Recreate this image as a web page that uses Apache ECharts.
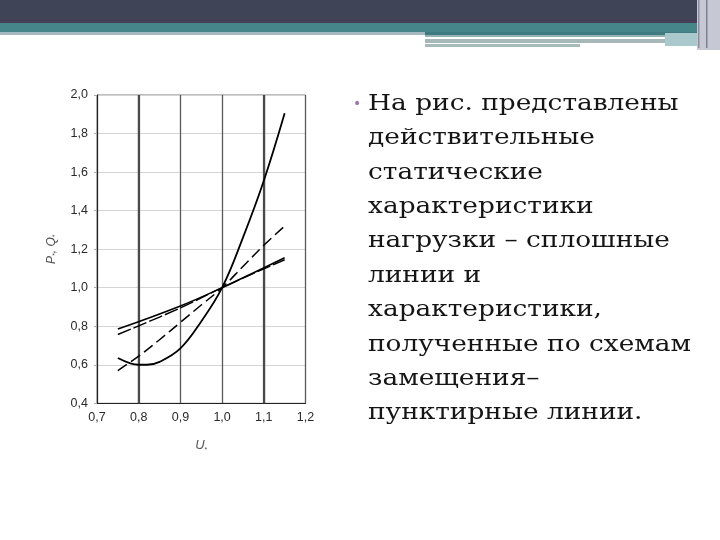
<!DOCTYPE html>
<html><head><meta charset="utf-8">
<script src="https://cdn.jsdelivr.net/npm/echarts@6/dist/echarts.min.js"></script>
<style>html,body{margin:0;padding:0;background:#fff}#c{width:720px;height:540px}</style>
</head><body><div id="c"></div>
<script>
// ---- data ----
const xTicks = [0.7, 0.8, 0.9, 1.0, 1.1, 1.2];
const yTicks = [0.4, 0.6, 0.8, 1.0, 1.2, 1.4, 1.6, 1.8, 2.0];
const pActualU = [0.75, 0.78, 0.80, 0.82, 0.85, 0.90, 0.95, 1.00, 1.05, 1.10, 1.15];
const pActual  = [0.635, 0.607, 0.600, 0.600, 0.615, 0.685, 0.825, 1.000, 1.26, 1.555, 1.905];
const pModelU  = [0.75, 0.80, 0.85, 0.90, 0.95, 1.00, 1.05, 1.10, 1.15];
const pModel   = [0.57, 0.645, 0.73, 0.82, 0.91, 1.00, 1.11, 1.22, 1.32];
const qActualU = [0.75, 0.90, 1.00, 1.15];
const qActual  = [0.785, 0.905, 1.00, 1.155];
const qModelU  = [0.75, 0.90, 1.00, 1.15];
const qModel   = [0.757, 0.895, 1.00, 1.145];
const strongGrid = [0.8, 1.1];
const textLines = [
  'На рис. представлены',
  'действительные',
  'статические',
  'характеристики',
  'нагрузки – сплошные',
  'линии и',
  'характеристики,',
  'полученные по схемам',
  'замещения–',
  'пунктирные линии.'
];

const zip = (a, b) => a.map((v, i) => [v, b[i]]);
const fmt = v => v.toFixed(1).replace('.', ',');

const chart = echarts.init(document.getElementById('c'), null, {renderer: 'canvas'});

const graphics = [
  {type:'rect', shape:{x:0,y:0,width:720,height:23}, style:{fill:'#3f4456'}},
  {type:'rect', shape:{x:0,y:19,width:720,height:4}, style:{fill:'#463f58'}},
  {type:'rect', shape:{x:0,y:23,width:720,height:9}, style:{fill:'#46868a'}},
  {type:'rect', shape:{x:0,y:32,width:425,height:3}, style:{fill:'#a7b9c0'}},
  {type:'rect', shape:{x:425,y:32,width:280,height:3}, style:{fill:'#3f7a80'}},
  {type:'rect', shape:{x:425,y:35,width:240,height:2}, style:{fill:'#92b2b4'}},
  {type:'rect', shape:{x:425,y:39,width:240,height:4}, style:{fill:'#a6b8b8'}},
  {type:'rect', shape:{x:425,y:44,width:155,height:3}, style:{fill:'#a9baba'}},
  {type:'rect', shape:{x:665,y:33,width:35,height:13}, style:{fill:'#a9c9cd'}},
  {type:'rect', shape:{x:697,y:0,width:23,height:50}, style:{fill:'#c6c8d4'}},
  {type:'rect', shape:{x:698,y:0,width:1.5,height:48}, style:{fill:'#8a8ea0'}},
  {type:'rect', shape:{x:706,y:0,width:1.5,height:48}, style:{fill:'#7d8194'}},
  {type:'text', left:353, top:97, style:{text:'•', fill:'#a07aa8', font:'14px "DejaVu Sans"'}}
];
textLines.forEach((t, i) => {
  graphics.push({type:'text', x:368, y:93 + i*34.4, scaleX:1.2,
    style:{text:t, fill:'#151515', font:'22px "DejaVu Serif"'}});
});

const mkSeries = (name, u, v, dashed, width) => ({
  name, type:'line', data: zip(u, v), smooth: 0.4, symbol:'none',
  lineStyle:{color:'#000', width, type: dashed ? [11, 5] : 'solid'}, z: 5
});

chart.setOption({
  animation:false,
  grid:{left:97, top:95, width:208.5, height:308.3, show:true, borderColor:'#7a7a7a', borderWidth:1},
  xAxis:{type:'value', min:0.7, max:1.2, interval:0.1,
    name:'{i|U}{s|*}', nameLocation:'middle', nameGap:35,
    nameTextStyle:{rich:{i:{fontStyle:'italic', fontSize:13, color:'#555', fontFamily:'Liberation Sans'}, s:{fontSize:7, color:'#555', padding:[8,0,0,0]}}},
    axisLine:{show:true, lineStyle:{color:'#222', width:1}},
    axisTick:{show:false},
    axisLabel:{formatter: v => fmt(v), color:'#2a2a2a', fontSize:12.5, fontFamily:'Liberation Sans', margin:8},
    splitLine:{show:true, lineStyle:{color:'#5a5a5a', width:1.3}}
  },
  yAxis:{type:'value', min:0.4, max:2.0, interval:0.2,
    name:'{i|P}{s|*}{i|, Q}{s|*}', nameLocation:'middle', nameGap:38, nameRotate:90,
    nameTextStyle:{rich:{i:{fontStyle:'italic', fontSize:12, color:'#555', fontFamily:'Liberation Sans'}, s:{fontSize:7, color:'#555', padding:[8,0,0,0]}}},
    axisLine:{show:true, lineStyle:{color:'#222', width:1}},
    axisTick:{show:true, length:3, lineStyle:{color:'#aaa'}},
    axisLabel:{formatter: v => fmt(v), color:'#2a2a2a', fontSize:12.5, fontFamily:'Liberation Sans', margin:9},
    splitLine:{show:true, lineStyle:{color:'#d4d4d4', width:1}}
  },
  series:[
    mkSeries('P actual', pActualU, pActual, false, 1.8),
    mkSeries('P model', pModelU, pModel, true, 1.5),
    mkSeries('Q actual', qActualU, qActual, false, 1.6),
    Object.assign(mkSeries('Q model', qModelU, qModel, true, 1.4), {lineStyle:{color:'#000', width:1.4, type:[14,3]}}),
    {type:'line', data:[], markLine:{silent:true, symbol:'none', label:{show:false},
      lineStyle:{color:'#4a4a4a', width:2.2, type:'solid'},
      data: strongGrid.map(x => ({xAxis:x}))}, z:2}
  ],
  graphic: graphics
});
</script></body></html>
